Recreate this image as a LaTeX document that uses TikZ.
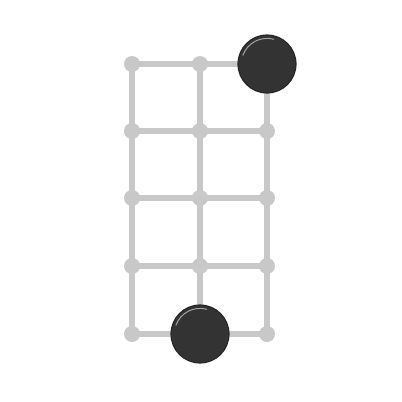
\documentclass[tikz,border=0pt]{standalone}
\usetikzlibrary{backgrounds}
\definecolor{gridgray}{RGB}{200,200,200}
\definecolor{stonegray}{RGB}{51,51,51}

\begin{document}
\begin{tikzpicture}[x=0.025cm, y=-0.025cm,
    dot/.style={circle, fill=gridgray, inner sep=0pt, minimum size=0.4cm},
    link/.style={gridgray, line width=4.3pt},
    stone/.style={circle, fill=stonegray, draw=black!85, line width=0.8pt,
                  inner sep=0pt, minimum size=1.45cm},
    shine/.style={white!55!stonegray, line width=0.7pt, line cap=round}]
    \useasboundingbox (0,0) rectangle (402,402);
    % grid points
    \foreach \c/\x in {0/132,1/200,2/267}
      \foreach \r/\y in {0/64,1/131,2/198,3/266,4/334}
        \node[dot] (p\c\r) at (\x,\y) {};
    \begin{scope}[on background layer]
      \foreach \r in {0,...,4} \draw[link] (p0\r.center) -- (p2\r.center);
      \foreach \c in {0,1,2} \draw[link] (p\c0.center) -- (p\c4.center);
    \end{scope}
    % stones
    \node[stone] (s1) at (p20) {};
    \node[stone] (s2) at (p14) {};
    \foreach \s in {s1,s2} {
      \begin{scope}[shift={(\s.center)}, x=1cm, y=1cm]
        \draw[shine] (160:0.64) arc[start angle=160, end angle=75, radius=0.64];
      \end{scope}
    }
\end{tikzpicture}
\end{document}
